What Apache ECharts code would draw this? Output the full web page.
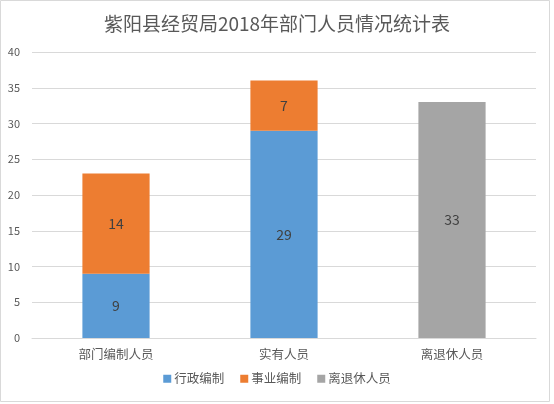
<!DOCTYPE html>
<html>
<head>
<meta charset="utf-8">
<script src="https://cdn.jsdelivr.net/npm/echarts@6/dist/echarts.min.js"></script>
<style>
  html, body { margin: 0; padding: 0; background: #fff; }
  #chart { width: 554px; height: 404px; }
</style>
</head>
<body>
<div id="chart"></div>
<script>
const categories = ['部门编制人员', '实有人员', '离退休人员'];
const adminStaff = [9, 29, '-'];
const institutionStaff = [14, 7, '-'];
const retiredStaff = ['-', '-', 33];

const textColor = '#595959';
const font = '"Microsoft YaHei", "Noto Sans CJK SC", sans-serif';

const chart = echarts.init(document.getElementById('chart'));

const makeSeries = (name, data, color) => ({
  name,
  type: 'bar',
  stack: 'total',
  data,
  barWidth: '40%',
  itemStyle: { color },
  label: {
    show: true,
    position: 'inside',
    color: '#404040',
    fontSize: 14,
    fontFamily: font
  }
});

chart.setOption({
  animation: false,
  title: {
    text: '紫阳县经贸局2018年部门人员情况统计表',
    left: 'center',
    top: 9,
    textStyle: { color: textColor, fontSize: 19, fontWeight: 'normal', fontFamily: font }
  },
  graphic: [{
    type: 'rect',
    shape: { x: 0.5, y: 0.5, width: 549, height: 401 },
    style: { fill: 'none', stroke: '#d9d9d9', lineWidth: 1 },
    silent: true
  }],
  legend: {
    bottom: 14,
    left: 'center',
    itemWidth: 8,
    itemHeight: 8,
    itemGap: 16,
    icon: 'rect',
    textStyle: { color: textColor, fontSize: 12.5, fontFamily: font, padding: [0, 0, 0, -2] },
    data: ['行政编制', '事业编制', '离退休人员']
  },
  grid: { left: 32, right: 18, top: 52, bottom: 66 },
  xAxis: {
    type: 'category',
    data: categories,
    axisTick: { show: false },
    axisLine: { lineStyle: { color: '#d9d9d9' } },
    axisLabel: { color: textColor, fontSize: 12.5, fontFamily: font, margin: 10 }
  },
  yAxis: {
    type: 'value',
    min: 0,
    max: 40,
    interval: 5,
    axisLine: { show: false },
    axisTick: { show: false },
    splitLine: { lineStyle: { color: '#d9d9d9' } },
    axisLabel: { color: textColor, fontSize: 11, fontFamily: font, margin: 12 }
  },
  series: [
    makeSeries('行政编制', adminStaff, '#5b9bd5'),
    makeSeries('事业编制', institutionStaff, '#ed7d31'),
    makeSeries('离退休人员', retiredStaff, '#a5a5a5')
  ]
});
</script>
</body>
</html>
